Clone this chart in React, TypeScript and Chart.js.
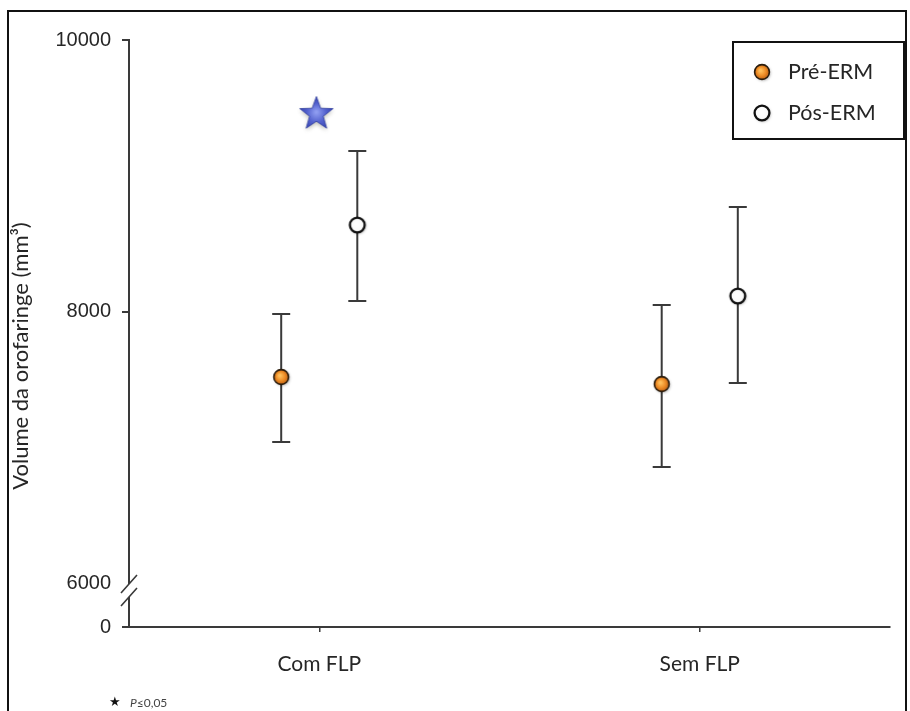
import React, { useEffect, useRef } from "react";
import { Chart, registerables } from "chart.js";

Chart.register(...registerables);

// ---- data ----
const categories = ["Com FLP", "Sem FLP"];
const categoryPos = [1, 3];
const seriesNames = ["Pré-ERM", "Pós-ERM"];
const seriesOffset = [-0.2, 0.2];
const preMean = [7518, 7466];
const preLow = [7039, 6855];
const preHigh = [7982, 8048];
const posMean = [8637, 8114];
const posLow = [8077, 7473];
const posHigh = [9182, 8770];
const starX = [0.985];
const starY = [9462];
const yTickValues = [6000, 8000, 10000];
const yBottomLabel = "0";
const yTitle = "Volume da orofaringe (mm³)";
const footnoteSymbol = "★";
const footnoteP = "P";
const footnoteRest = "≤0,05";

const Y_MIN = 5676;
const Y_MAX = 10000;
const X_MIN = 0;
const X_MAX = 4;

const AXIS_COLOR = "#3a3a3a";
const TEXT_COLOR = "#262626";
const SANS = "Lato, 'Open Sans', sans-serif";

function makeOrange(): HTMLCanvasElement {
  const c = document.createElement("canvas");
  c.width = 24; c.height = 24;
  const g = c.getContext("2d")!;
  g.save();
  g.shadowColor = "rgba(0,0,0,0.35)";
  g.shadowBlur = 3;
  g.shadowOffsetX = 1;
  g.shadowOffsetY = 1;
  const grad = g.createRadialGradient(10.5, 10.5, 1, 12, 12, 7.8);
  grad.addColorStop(0, "#ffbe5a");
  grad.addColorStop(0.55, "#ec8a24");
  grad.addColorStop(1, "#b45a12");
  g.beginPath();
  g.arc(12, 12, 7.4, 0, Math.PI * 2);
  g.fillStyle = grad;
  g.fill();
  g.restore();
  g.beginPath();
  g.arc(12, 12, 7.4, 0, Math.PI * 2);
  g.strokeStyle = "#2a1c0c";
  g.lineWidth = 1.6;
  g.stroke();
  return c;
}

function makeWhite(): HTMLCanvasElement {
  const c = document.createElement("canvas");
  c.width = 24; c.height = 24;
  const g = c.getContext("2d")!;
  g.save();
  g.shadowColor = "rgba(0,0,0,0.35)";
  g.shadowBlur = 3;
  g.shadowOffsetX = 1;
  g.shadowOffsetY = 1;
  const grad = g.createRadialGradient(11, 11, 1, 12, 12, 7.4);
  grad.addColorStop(0, "#ffffff");
  grad.addColorStop(0.7, "#fbfbfb");
  grad.addColorStop(1, "#d8d8d8");
  g.beginPath();
  g.arc(12, 12, 7.4, 0, Math.PI * 2);
  g.fillStyle = grad;
  g.fill();
  g.restore();
  g.beginPath();
  g.arc(12, 12, 7.4, 0, Math.PI * 2);
  g.strokeStyle = "#111";
  g.lineWidth = 2.3;
  g.stroke();
  return c;
}

function makeStar(): HTMLCanvasElement {
  const c = document.createElement("canvas");
  c.width = 44; c.height = 44;
  const g = c.getContext("2d")!;
  const cx = 22, cy = 23, ro = 17.5, ri = 7.2;
  g.beginPath();
  for (let i = 0; i < 10; i++) {
    const r = i % 2 === 0 ? ro : ri;
    const a = -Math.PI / 2 + (i * Math.PI) / 5;
    const x = cx + r * Math.cos(a);
    const y = cy + r * Math.sin(a);
    if (i === 0) g.moveTo(x, y); else g.lineTo(x, y);
  }
  g.closePath();
  g.save();
  g.shadowColor = "rgba(60,60,40,0.35)";
  g.shadowBlur = 4;
  g.shadowOffsetY = 2;
  const grad = g.createRadialGradient(cx, cy - 2, 1, cx, cy, ro);
  grad.addColorStop(0, "#8e9cf0");
  grad.addColorStop(0.5, "#5563cf");
  grad.addColorStop(1, "#3442b0");
  g.fillStyle = grad;
  g.fill();
  g.restore();
  g.strokeStyle = "#2f3c9e";
  g.lineWidth = 0.8;
  g.stroke();
  return c;
}

export default function App() {
  const ref = useRef<HTMLCanvasElement | null>(null);

  useEffect(() => {
    if (!ref.current) return;
    const orange = makeOrange();
    const white = makeWhite();
    const star = makeStar();

    const preData = categoryPos.map((p, i) => ({ x: p + seriesOffset[0], y: preMean[i], lo: preLow[i], hi: preHigh[i] }));
    const posData = categoryPos.map((p, i) => ({ x: p + seriesOffset[1], y: posMean[i], lo: posLow[i], hi: posHigh[i] }));
    const starData = starX.map((x, i) => ({ x, y: starY[i] }));

    const decorations = {
      id: "decorations",
      beforeDatasetsDraw(chart: any) {
        const ctx = chart.ctx;
        const xs = chart.scales.x;
        const ys = chart.scales.y;
        ctx.save();
        ctx.strokeStyle = AXIS_COLOR;
        ctx.lineWidth = 2;
        chart.data.datasets.forEach((ds: any) => {
          if (!ds.errorBars) return;
          ds.data.forEach((d: any) => {
            const x = xs.getPixelForValue(d.x);
            const yl = ys.getPixelForValue(d.lo);
            const yh = ys.getPixelForValue(d.hi);
            ctx.beginPath();
            ctx.moveTo(x, yh); ctx.lineTo(x, yl);
            ctx.moveTo(x - 9, yh); ctx.lineTo(x + 9, yh);
            ctx.moveTo(x - 9, yl); ctx.lineTo(x + 9, yl);
            ctx.stroke();
          });
        });
        ctx.restore();
      },
      afterDraw(chart: any) {
        const ctx = chart.ctx;
        const ys = chart.scales.y;
        const area = chart.chartArea;
        ctx.save();
        // outer frame
        ctx.strokeStyle = "#111";
        ctx.lineWidth = 2;
        ctx.strokeRect(8, 11, 898, 740);

        // y axis with break
        const x0 = area.left;
        const y6 = ys.getPixelForValue(yTickValues[0]);
        const s1 = y6 + 1;
        const s2 = y6 + 14;
        ctx.strokeStyle = AXIS_COLOR;
        ctx.lineWidth = 2;
        ctx.beginPath();
        ctx.moveTo(x0, area.top - 1);
        ctx.lineTo(x0, s1);
        ctx.moveTo(x0, s2);
        ctx.lineTo(x0, area.bottom);
        ctx.stroke();
        ctx.lineWidth = 1.6;
        ctx.beginPath();
        [s1, s2].forEach((cy) => {
          ctx.moveTo(x0 - 8, cy + 9);
          ctx.lineTo(x0 + 8, cy - 9);
        });
        ctx.stroke();

        // y title
        ctx.fillStyle = TEXT_COLOR;
        ctx.font = `22px ${SANS}`;
        ctx.textAlign = "center";
        ctx.textBaseline = "middle";
        ctx.translate(21, 356);
        ctx.rotate(-Math.PI / 2);
        ctx.fillText(yTitle, 0, 0);
        ctx.restore();

        // legend
        ctx.save();
        const lx = area.right - 157;
        const ly = area.top + 2;
        ctx.strokeStyle = "#111";
        ctx.lineWidth = 2;
        ctx.strokeRect(lx, ly, 171, 97);
        const imgs = [orange, white];
        seriesNames.forEach((name, i) => {
          const cy = ly + 30 + i * 41;
          ctx.drawImage(imgs[i], lx + 29 - 12, cy - 12);
          ctx.fillStyle = TEXT_COLOR;
          ctx.font = `21.5px ${SANS}`;
          ctx.textAlign = "left";
          ctx.textBaseline = "middle";
          ctx.fillText(name, lx + 55, cy);
        });
        ctx.restore();

        // footnote
        ctx.save();
        ctx.fillStyle = "#111";
        ctx.textBaseline = "middle";
        ctx.textAlign = "left";
        ctx.font = `13px 'DejaVu Sans', sans-serif`;
        ctx.fillText(footnoteSymbol, 109, 703);
        ctx.fillStyle = "#444";
        ctx.font = `italic 12px ${SANS}`;
        ctx.fillText(footnoteP, 130, 703);
        const pw = ctx.measureText(footnoteP).width;
        ctx.font = `12px ${SANS}`;
        ctx.fillText(footnoteRest, 130 + pw, 703);
        ctx.restore();
      },
    };

    const chart = new Chart(ref.current, {
      type: "scatter",
      data: {
        datasets: [
          { label: seriesNames[0], data: preData, pointStyle: orange as any, errorBars: true } as any,
          { label: seriesNames[1], data: posData, pointStyle: white as any, errorBars: true } as any,
          { label: "star", data: starData, pointStyle: star as any } as any,
        ],
      },
      options: {
        animation: false,
        responsive: false,
        events: [],
        layout: { padding: { top: 40, right: 20, left: 0, bottom: 0 } },
        plugins: { legend: { display: false }, tooltip: { enabled: false } },
        scales: {
          x: {
            type: "linear",
            min: X_MIN,
            max: X_MAX,
            afterBuildTicks: (s: any) => {
              s.ticks = categoryPos.map((v) => ({ value: v }));
            },
            afterFit: (s: any) => { s.height = 84; },
            ticks: {
              callback: (v: any) => {
                const i = categoryPos.indexOf(Number(v));
                return i >= 0 ? categories[i] : "";
              },
              font: { family: SANS, size: 21 },
              color: TEXT_COLOR,
              padding: 20,
              maxRotation: 0,
            },
            grid: { drawOnChartArea: false, drawTicks: true, tickLength: 5, color: AXIS_COLOR, lineWidth: 1.5 },
            border: { display: true, color: AXIS_COLOR, width: 2 },
          },
          y: {
            type: "linear",
            min: Y_MIN,
            max: Y_MAX,
            afterBuildTicks: (s: any) => {
              s.ticks = [Y_MIN, ...yTickValues].map((v) => ({ value: v }));
            },
            afterFit: (s: any) => { s.width = 129; },
            ticks: {
              callback: (v: any) => (Number(v) === Y_MIN ? yBottomLabel : String(v)),
              font: { family: "'Liberation Sans', Arial, sans-serif", size: 20 },
              color: TEXT_COLOR,
              padding: 11,
            },
            grid: {
              drawOnChartArea: false,
              drawTicks: true,
              tickLength: 7,
              lineWidth: 2,
              color: (c: any) => (c.tick && c.tick.value === yTickValues[0] ? "rgba(0,0,0,0)" : AXIS_COLOR),
            },
            border: { display: false },
          },
        },
      },
      plugins: [decorations],
    } as any);

    return () => chart.destroy();
  }, []);

  return (
    <div style={{ position: "fixed", left: 0, top: 0, width: 910, height: 711, background: "#fff" }}>
      <canvas ref={ref} width={910} height={711} style={{ width: 910, height: 711, display: "block" }} />
    </div>
  );
}
